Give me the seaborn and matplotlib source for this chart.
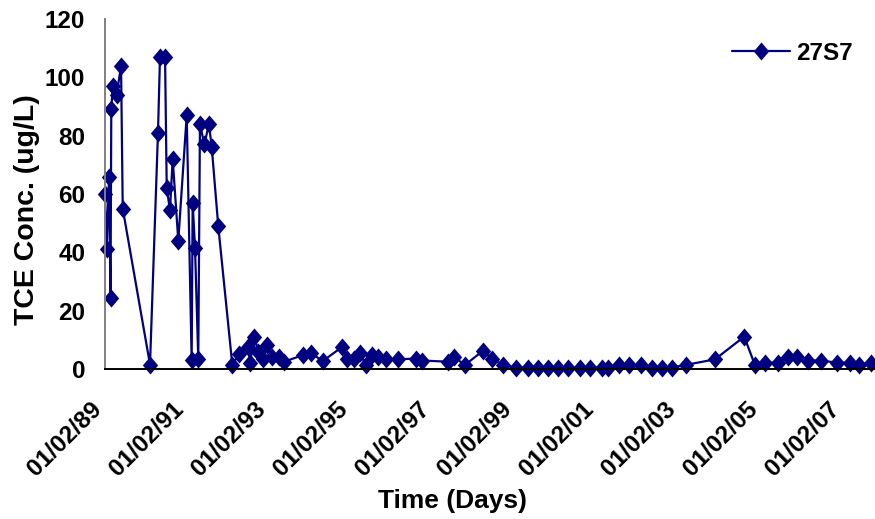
import matplotlib
matplotlib.use("Agg")
import matplotlib.pyplot as plt
import matplotlib.dates as mdates
import matplotlib.transforms as mtransforms
import pandas as pd
import seaborn as sns

# TCE concentration record for monitoring well 27S7
well_name = "27S7"

sample_dates = [
    "1989-01-02", "1989-01-17", "1989-02-07", "1989-02-20", "1989-02-27",
    "1989-03-12", "1989-04-16", "1989-05-25", "1989-06-09",
    "1990-02-07", "1990-04-19", "1990-05-07", "1990-06-21", "1990-07-06",
    "1990-08-04", "1990-08-28", "1990-10-17", "1990-12-31",
    "1991-02-13", "1991-02-22", "1991-03-15", "1991-04-13", "1991-04-28",
    "1991-06-06", "1991-07-17", "1991-08-11", "1991-10-08",
    "1992-02-10", "1992-04-10", "1992-07-02", "1992-07-17", "1992-08-24",
    "1992-09-29", "1992-11-12", "1992-12-13",
    "1993-01-26", "1993-04-04", "1993-05-16", "1993-11-04",
    "1994-01-08", "1994-04-25", "1994-10-17", "1994-11-30",
    "1995-01-29", "1995-03-24", "1995-05-13", "1995-07-06", "1995-09-03", "1995-11-10",
    "1996-02-28", "1996-08-01", "1996-09-29",
    "1997-05-18", "1997-07-11", "1997-10-14",
    "1998-03-26", "1998-06-14", "1998-09-20",
    "1999-01-11", "1999-04-26", "1999-07-24", "1999-10-21",
    "2000-01-18", "2000-04-16", "2000-08-04", "2000-11-01",
    "2001-02-13", "2001-04-13", "2001-07-20", "2001-10-17",
    "2002-01-29", "2002-05-04", "2002-08-01", "2002-10-29",
    "2003-03-03", "2003-11-19",
    "2004-08-06", "2004-11-09",
    "2005-02-07", "2005-05-31", "2005-08-28", "2005-11-21",
    "2006-02-21", "2006-06-19", "2006-11-07",
    "2007-03-06", "2007-05-25", "2007-09-09",
]

tce_ugl = [
    60, 41, 66, 24.5, 89,
    97, 94, 104, 55,
    1.5, 81, 107, 107, 62,
    54.5, 72, 44, 87,
    3, 57, 41.5, 3.5, 84,
    77, 84, 76, 49,
    1.5, 5.0, 7.6, 1.9, 11.1,
    5.9, 3.6, 8.4,
    4.2, 4.2, 2.5, 4.8,
    5.6, 2.7, 7.6, 3.3,
    3.3, 5.6, 1.4, 4.8, 4.2, 3.3,
    3.3, 3.6, 2.9,
    2.5, 4.0, 1.4,
    6.3, 3.3, 1.4,
    0.5, 0.5, 0.5, 0.5,
    0.5, 0.5, 0.5, 0.5,
    0.5, 0.5, 1.4, 1.4,
    1.4, 0.5, 0.5, 0.5,
    1.4, 3.3,
    11.1, 1.4,
    2.2, 2.2, 4.2, 4.2,
    2.9, 2.9, 2.2,
    2.2, 1.4, 2.2,
]

tick_dates = ["1989-01-02", "1991-01-02", "1993-01-02", "1995-01-02", "1997-01-02",
              "1999-01-02", "2001-01-02", "2003-01-02", "2005-01-02", "2007-01-02"]
tick_labels = ["01/02/89", "01/02/91", "01/02/93", "01/02/95", "01/02/97",
               "01/02/99", "01/02/01", "01/02/03", "01/02/05", "01/02/07"]
y_ticks = [0, 20, 40, 60, 80, 100, 120]

x_start, x_end = "1989-01-02", "2007-10-15"

sns.set_theme(style="white")
plt.rcParams["font.family"] = ["Liberation Sans", "DejaVu Sans"]
plt.rcParams["font.weight"] = "bold"
plt.rcParams["text.color"] = "black"
plt.rcParams["axes.labelcolor"] = "black"
plt.rcParams["xtick.color"] = "black"
plt.rcParams["ytick.color"] = "black"

W, H = 875, 519
fig = plt.figure(figsize=(W / 100, H / 100), dpi=100)
ax = fig.add_axes([105 / W, 1 - 369 / H, 1 - 105 / W, (369 - 19) / H])

df = pd.DataFrame({"date": pd.to_datetime(sample_dates), "tce": tce_ugl})

# slightly tall diamond marker
diamond = [(0, 1), (0.85, 0), (0, -1), (-0.85, 0), (0, 1)]

sns.lineplot(data=df, x="date", y="tce", ax=ax, color="#000080",
             estimator=None, sort=False, label=well_name,
             marker=diamond, markersize=13, markeredgewidth=0,
             linewidth=1.6, clip_on=False)

ax.set_xlim(pd.Timestamp(x_start), pd.Timestamp(x_end))
ax.set_ylim(0, 120)
ax.set_yticks(y_ticks)
ax.set_yticklabels([str(v) for v in y_ticks], fontsize=17.5, fontweight="bold")
ax.set_xticks(mdates.date2num(pd.to_datetime(tick_dates)))
ax.set_xticklabels(tick_labels, fontsize=17.5, fontweight="bold", rotation=45,
                   ha="right", va="center", rotation_mode="anchor")

ax.tick_params(axis="y", direction="out", length=4.3, width=1.0,
               color="black", labelcolor="black", pad=10)
ax.tick_params(axis="x", direction="out", length=4.3, width=1.0,
               color="#808080", labelcolor="black", pad=22)

# nudge the slanted date labels a little to the left
shift = mtransforms.ScaledTranslation(-7 / 100, 0, fig.dpi_scale_trans)
for lbl in ax.get_xticklabels():
    lbl.set_transform(lbl.get_transform() + shift)

for side in ("top", "right"):
    ax.spines[side].set_visible(False)
ax.spines["left"].set_color("#808080")
ax.spines["left"].set_linewidth(1.4)
ax.spines["bottom"].set_color("black")
ax.spines["bottom"].set_linewidth(1.4)
ax.grid(False)
ax.set_xlabel("")
ax.set_ylabel("")

fig.text(452 / W, 1 - 508 / H, "Time (Days)", ha="center", va="baseline",
         fontsize=19, fontweight="bold")
fig.text(27 / W, 1 - 210 / H, "TCE Conc. (ug/L)", ha="center", va="center",
         rotation=90, fontsize=20.5, fontweight="bold")

ax.legend(loc="center left", bbox_to_anchor=(732 / W, 1 - 53 / H),
          bbox_transform=fig.transFigure, frameon=False, borderpad=0,
          borderaxespad=0, handlelength=2.37, handletextpad=0.25,
          prop={"size": 17.5, "weight": "bold"})

fig.savefig("out.png", dpi=100, facecolor="white")
